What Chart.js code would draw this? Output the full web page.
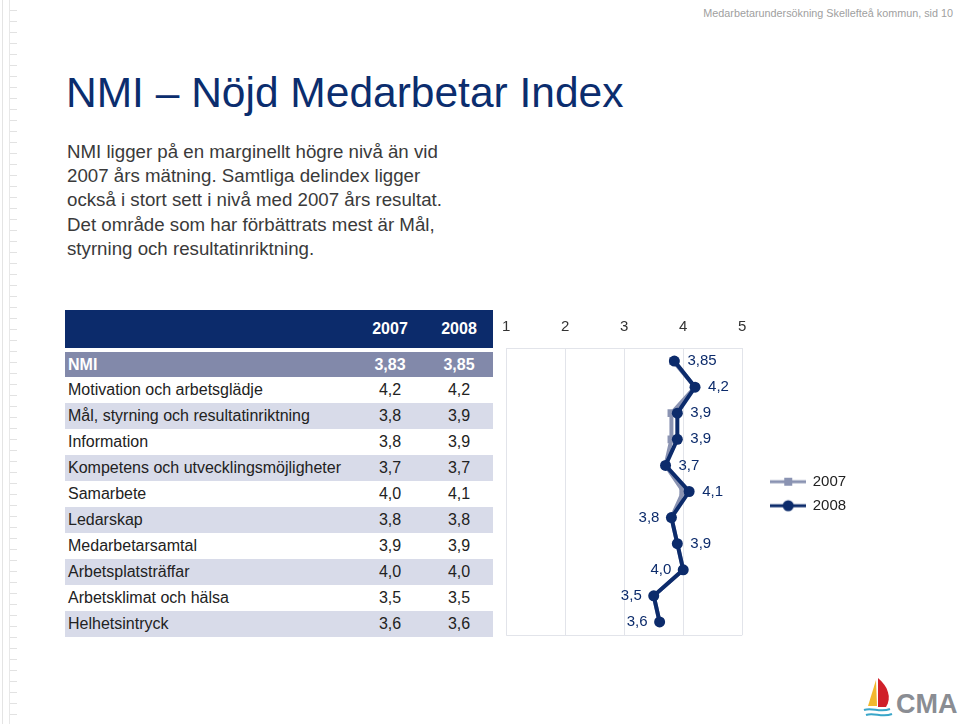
<!DOCTYPE html>
<html lang="sv">
<head>
<meta charset="utf-8">
<title>NMI – Nöjd Medarbetar Index</title>
<script src="https://cdn.jsdelivr.net/npm/chart.js@4.4.1/dist/chart.umd.min.js"></script>
<style>
  html, body { margin: 0; padding: 0; }
  body {
    width: 960px; height: 724px; position: relative; overflow: hidden;
    background: #fff; font-family: "Liberation Sans", Arial, sans-serif;
  }
  .ruler {
    position: absolute; left: 2px; top: 0; width: 14px; height: 724px;
    border-left: 1px solid #e4e4e4;
    background: repeating-linear-gradient(to bottom, transparent 0 10px, #e2e2e2 10px 11px) 7px 0 / 7px 100% no-repeat;
  }
  .ruler::after {
    content: ""; position: absolute; left: 6px; top: 0; width: 1px; height: 100%; background: #e8e8e8;
  }
  .pageinfo {
    position: absolute; right: 7px; top: 7px; font-size: 10.8px; color: #a0a0a0;
  }
  h1 {
    position: absolute; left: 66px; top: 72px; margin: 0;
    font-weight: normal; font-size: 42.5px; line-height: 1; color: #0b2d6e;
  }
  .intro {
    position: absolute; left: 67px; top: 140px; margin: 0; white-space: nowrap;
    font-size: 18.7px; line-height: 24.2px; color: #3a3a3a;
  }
  table {
    position: absolute; left: 65px; top: 310px; width: 428px;
    border-collapse: collapse; font-size: 16px; color: #222;
  }
  td { padding: 0 0 0 3px; height: 26px; white-space: nowrap; }
  td.num { text-align: center; padding: 0; }
  tr.head td { background: #0c2b6b; color: #fff; font-weight: bold; height: 38px; }
  tr.gap td { height: 4px; padding: 0; font-size: 0; line-height: 0; }
  tr.nmi td { background: #8289aa; color: #fff; font-weight: bold; height: 25px; }
  tr.alt td { background: #d8dbe9; }
  #chartBox { position: absolute; left: 490px; top: 306px; width: 375px; height: 339px; }
  .logo { position: absolute; left: 862px; top: 676px; }
</style>
</head>
<body>
<div class="ruler"></div>
<div class="pageinfo">Medarbetarundersökning Skellefteå kommun, sid 10</div>
<h1>NMI – Nöjd Medarbetar Index</h1>
<p class="intro">NMI ligger på en marginellt högre nivå än vid<br>2007 års mätning. Samtliga delindex ligger<br>också i stort sett i nivå med 2007 års resultat.<br>Det område som har förbättrats mest är Mål,<br>styrning och resultatinriktning.</p>

<table id="nmiTable">
  <colgroup><col style="width:290px"><col style="width:70px"><col style="width:68px"></colgroup>
  <tbody></tbody>
</table>

<div id="chartBox"><canvas id="nmiChart"></canvas></div>

<svg class="logo" width="96" height="44" viewBox="0 0 96 44">
  <path d="M14 4 L6 30 L15 30 Z" fill="#f2b82e"/>
  <path d="M16 2 C26 10 30 22 24 31 L16 31 Z" fill="#d0202a"/>
  <path d="M2 34 C10 31 18 37 28 33" stroke="#3aa6c9" stroke-width="2" fill="none"/>
  <path d="M4 39 C12 36 20 42 30 38" stroke="#3aa6c9" stroke-width="2" fill="none"/>
  <text x="34" y="37" font-family="Liberation Sans, Arial, sans-serif" font-weight="bold" font-size="27" fill="#8a8d93">CMA</text>
</svg>

<script>
/* Data */
const categories = [
    'NMI',
    'Motivation och arbetsglädje',
    'Mål, styrning och resultatinriktning',
    'Information',
    'Kompetens och utvecklingsmöjligheter',
    'Samarbete',
    'Ledarskap',
    'Medarbetarsamtal',
    'Arbetsplatsträffar',
    'Arbetsklimat och hälsa',
    'Helhetsintryck'
];
const values2007 = [3.83, 4.2, 3.8, 3.8, 3.7, 4.0, 3.8, 3.9, 4.0, 3.5, 3.6];
const values2008 = [3.85, 4.2, 3.9, 3.9, 3.7, 4.1, 3.8, 3.9, 4.0, 3.5, 3.6];
const seriesLabels = ['2007', '2008'];
const scaleTicks = [1, 2, 3, 4, 5];

const NAVY = '#0c2b6b';
const GRAY = '#8a93b2';
const GRID = '#e2e4ea';

/* Swedish number format: 3.85 -> "3,85", 4 -> "4,0" */
function fmt(v) {
    let s = String(Math.round(v * 100) / 100);
    if (s.indexOf('.') < 0) s += '.0';
    return s.replace('.', ',');
}

/* Table */
const tbody = document.querySelector('#nmiTable tbody');
let html = '<tr class="head"><td></td><td class="num">' + seriesLabels[0] + '</td><td class="num">' + seriesLabels[1] + '</td></tr>';
html += '<tr class="gap"><td colspan="3"></td></tr>';
categories.forEach((name, i) => {
    const cls = i === 0 ? 'nmi' : (i % 2 === 0 ? 'alt' : '');
    html += '<tr class="' + cls + '"><td>' + name + '</td><td class="num">' + fmt(values2007[i]) +
        '</td><td class="num">' + fmt(values2008[i]) + '</td></tr>';
});
tbody.innerHTML = html;

/* Legend icons: line with marker */
function makeIcon(color, shape) {
    const c = document.createElement('canvas');
    c.width = 36; c.height = 14;
    const g = c.getContext('2d');
    g.strokeStyle = color; g.lineWidth = 3;
    g.beginPath(); g.moveTo(0, 7); g.lineTo(36, 7); g.stroke();
    g.fillStyle = color;
    if (shape === 'rect') {
        g.fillRect(14, 3, 8, 8);
    } else {
        g.beginPath(); g.arc(18, 7, 5.5, 0, Math.PI * 2); g.fill();
    }
    return c;
}
const legendIcons = [makeIcon(GRAY, 'rect'), makeIcon(NAVY, 'circle')];

/* Value labels for 2008 + bottom frame line */
const valueLabels = {
    id: 'valueLabels',
    beforeDatasetsDraw(chart) {
        const { ctx, chartArea } = chart;
        ctx.save();
        ctx.strokeStyle = GRID;
        ctx.lineWidth = 1;
        ctx.beginPath();
        ctx.moveTo(chartArea.left, chartArea.bottom + 0.5);
        ctx.lineTo(chartArea.right, chartArea.bottom + 0.5);
        ctx.stroke();
        ctx.restore();
    },
    afterDatasetsDraw(chart) {
        const labelLeft = [6, 8, 9, 10];
        const meta = chart.getDatasetMeta(1);
        const ctx = chart.ctx;
        ctx.save();
        ctx.font = '15px "Liberation Sans", Arial, sans-serif';
        ctx.fillStyle = NAVY;
        ctx.textBaseline = 'middle';
        meta.data.forEach((pt, i) => {
            const left = labelLeft.includes(i);
            ctx.textAlign = left ? 'right' : 'left';
            ctx.fillText(fmt(values2008[i]), pt.x + (left ? -12 : 13), pt.y);
        });
        ctx.restore();
    }
};

/* Chart */
new Chart(document.getElementById('nmiChart'), {
    type: 'line',
    data: {
        labels: categories,
        datasets: [{
            label: seriesLabels[0],
            data: values2007,
            borderColor: GRAY,
            backgroundColor: GRAY,
            borderWidth: 4,
            pointStyle: 'rect',
            pointRadius: 5.5,
            pointBorderWidth: 0,
            order: 2
        }, {
            label: seriesLabels[1],
            data: values2008,
            borderColor: NAVY,
            backgroundColor: NAVY,
            borderWidth: 4,
            pointStyle: 'circle',
            pointRadius: 5.5,
            pointBorderWidth: 0,
            order: 1
        }]
    },
    options: {
        indexAxis: 'y',
        responsive: true,
        maintainAspectRatio: false,
        animation: false,
        layout: { padding: { left: 9, top: 0, right: 15, bottom: 10 } },
        scales: {
            x: {
                position: 'top',
                min: scaleTicks[0],
                max: scaleTicks[scaleTicks.length - 1],
                afterBuildTicks: axis => { axis.ticks = scaleTicks.map(v => ({ value: v })); },
                ticks: { color: '#333', font: { size: 15 }, padding: 12 },
                grid: { color: GRID, drawTicks: false },
                border: { color: GRID }
            },
            y: { display: false, offset: true },
            // empty spacer between the plot and the legend
            gap: {
                type: 'linear',
                position: 'right',
                display: true,
                ticks: { display: false },
                grid: { display: false },
                border: { display: false },
                afterFit: s => { s.width = 20; }
            }
        },
        plugins: {
            legend: {
                position: 'right',
                title: { display: true, text: ' ', font: { size: 12 }, padding: { top: 32, bottom: 0 } },
                labels: {
                    usePointStyle: true,
                    pointStyleWidth: 34,
                    boxHeight: 14,
                    color: '#222',
                    font: { size: 15 },
                    padding: 9,
                    sort: (a, b) => a.datasetIndex - b.datasetIndex,
                    generateLabels(chart) {
                        const items = Chart.defaults.plugins.legend.labels.generateLabels(chart);
                        items.forEach(it => { it.pointStyle = legendIcons[it.datasetIndex]; });
                        return items;
                    }
                }
            },
            tooltip: { enabled: false }
        }
    },
    plugins: [valueLabels]
});
</script>
</body>
</html>
